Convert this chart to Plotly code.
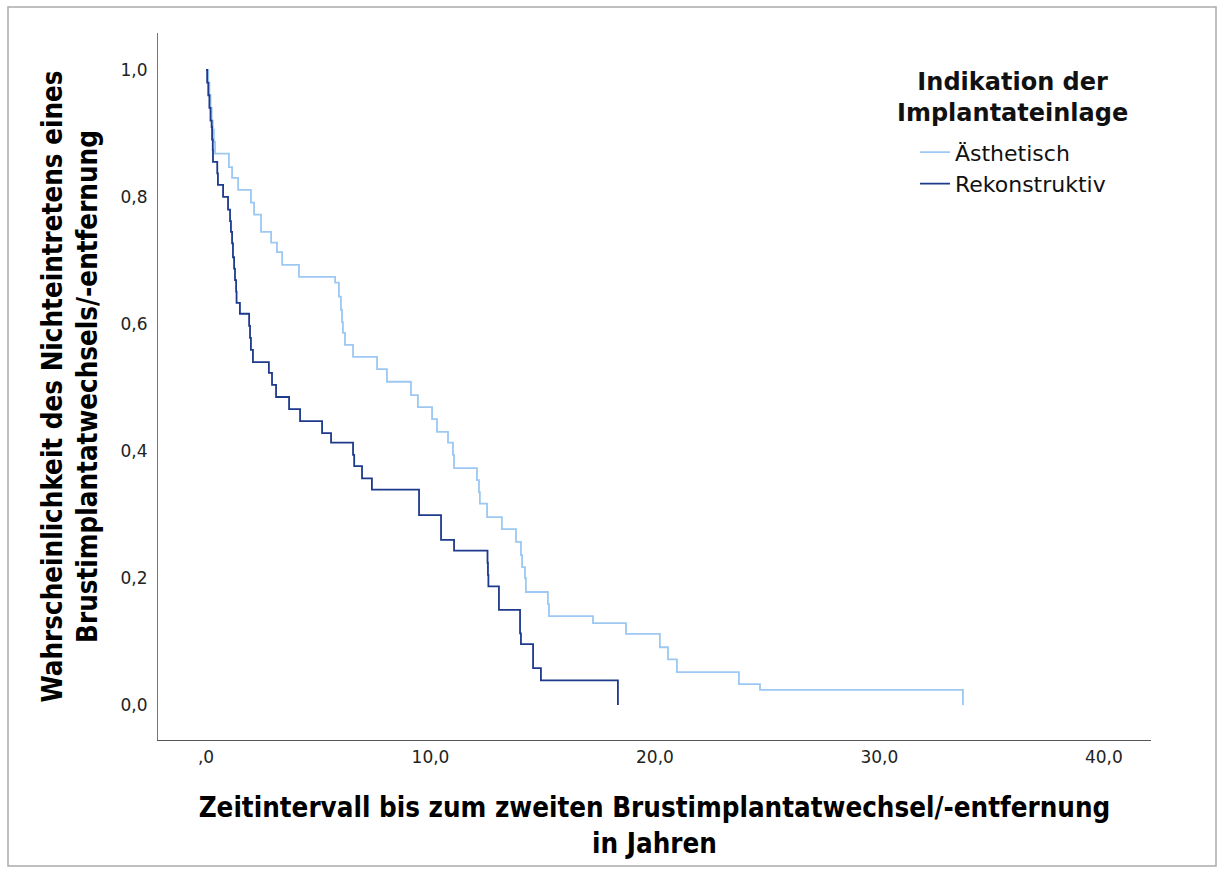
import plotly.graph_objects as go

# Kaplan-Meier step data (time in years, survival after step)
aest_t = [0, 0.10, 0.15, 0.20, 0.25, 0.30, 0.35, 0.40, 1.02, 1.16, 1.43, 2.00, 2.14, 2.45, 2.90,
          3.16, 3.39, 4.14, 5.75, 5.92, 6.01, 6.06, 6.10, 6.19, 6.55, 7.62, 8.06, 9.13, 9.44,
          10.07, 10.29, 10.78, 11.00, 11.05, 12.07, 12.16, 12.20, 12.52, 13.18, 13.81, 14.03,
          14.08, 14.21, 14.25, 15.23, 15.28, 17.24, 18.71, 20.22, 20.58, 20.98, 23.74, 24.68, 33.72]
aest_s = [1.0, 0.98, 0.96, 0.94, 0.92, 0.906, 0.887, 0.868, 0.847, 0.830, 0.811, 0.791, 0.772,
          0.745, 0.728, 0.713, 0.693, 0.674, 0.665, 0.643, 0.622, 0.603, 0.586, 0.567, 0.548,
          0.529, 0.509, 0.488, 0.469, 0.450, 0.430, 0.413, 0.394, 0.373, 0.354, 0.335, 0.317,
          0.296, 0.277, 0.257, 0.236, 0.217, 0.200, 0.178, 0.159, 0.140, 0.129, 0.112, 0.091,
          0.072, 0.052, 0.033, 0.024, 0.0]

rek_t = [0, 0.05, 0.10, 0.15, 0.20, 0.25, 0.27, 0.30, 0.31, 0.50, 0.53, 0.76, 0.98, 1.07, 1.11,
         1.16, 1.20, 1.25, 1.29, 1.34, 1.36, 1.51, 1.92, 1.96, 2.00, 2.09, 2.80, 2.94, 3.12,
         3.70, 4.19, 5.17, 5.57, 6.55, 6.60, 6.95, 7.39, 9.49, 10.47, 11.05, 12.54, 12.56,
         12.58, 13.05, 13.99, 14.03, 14.57, 14.92, 18.35]
rek_s = [1.0, 0.98, 0.96, 0.94, 0.92, 0.91, 0.89, 0.874, 0.855, 0.837, 0.819, 0.800, 0.780,
         0.762, 0.745, 0.727, 0.705, 0.687, 0.669, 0.651, 0.633, 0.616, 0.597, 0.578, 0.559,
         0.540, 0.523, 0.504, 0.485, 0.466, 0.447, 0.428, 0.413, 0.394, 0.376, 0.357, 0.339,
         0.299, 0.260, 0.243, 0.224, 0.205, 0.187, 0.150, 0.113, 0.096, 0.058, 0.039, 0.0]

x_ticks = [0, 10, 20, 30, 40]
x_labels = [",0", "10,0", "20,0", "30,0", "40,0"]
y_ticks = [0, 0.2, 0.4, 0.6, 0.8, 1.0]
y_labels = ["0,0", "0,2", "0,4", "0,6", "0,8", "1,0"]
legend_title = "Indikation der<br>Implantateinlage"

LIGHT = "#9cc8f2"
DARK = "#1d3a8c"
TITLE_FONT = "DejaVu Sans Condensed, Liberation Sans Narrow, DejaVu Sans, sans-serif"
TICK_FONT = "DejaVu Sans, Verdana, sans-serif"

fig = go.Figure()
fig.add_trace(go.Scatter(x=aest_t, y=aest_s, mode="lines", name="Ästhetisch",
                         line=dict(color=LIGHT, width=1.8, shape="hv")))
fig.add_trace(go.Scatter(x=rek_t, y=rek_s, mode="lines", name="Rekonstruktiv",
                         line=dict(color=DARK, width=1.8, shape="hv")))

fig.update_layout(
    width=1217, height=874,
    margin=dict(l=158, r=66, t=33, b=134),
    paper_bgcolor="white", plot_bgcolor="white",
    showlegend=True,
    legend=dict(
        x=0.7623, y=0.861, xanchor="left", yanchor="top",
        bgcolor="rgba(0,0,0,0)",
        font=dict(family=TICK_FONT, size=22, color="#111"),
        tracegroupgap=0,
    ),
    xaxis=dict(
        range=[-2.14, 42.1], tickvals=x_ticks, ticktext=x_labels,
        showgrid=False, zeroline=False, showline=True, linecolor="#555", linewidth=1,
        ticks="", ticklabelstandoff=2,
        tickfont=dict(family=TICK_FONT, size=17, color="#222"),
        title=dict(text="<b>Zeitintervall bis zum zweiten Brustimplantatwechsel/-entfernung<br>in Jahren</b>",
                   font=dict(family=TITLE_FONT, size=27.5, color="#000"), standoff=31),
    ),
    yaxis=dict(
        range=[-0.055, 1.058], tickvals=y_ticks, ticktext=y_labels,
        showgrid=False, zeroline=False, showline=True, linecolor="#777", linewidth=1,
        ticks="", ticklabelstandoff=6,
        tickfont=dict(family=TICK_FONT, size=17, color="#222"),
        title=dict(text="<b>Wahrscheinlichkeit des Nichteintretens eines<br>Brustimplantatwechsels/-entfernung</b>",
                   font=dict(family=TITLE_FONT, size=27.5, color="#000"), standoff=14),
    ),
)

# legend title (centred above the legend entries)
fig.add_annotation(text="<b>" + legend_title + "</b>", xref="paper", yref="paper",
                   x=(1012 - 158) / 993, y=1 - (66 - 33) / 707, xanchor="center", yanchor="top",
                   showarrow=False, align="center",
                   font=dict(family=TICK_FONT, size=24, color="#111"))

# outer frame of the chart
fig.add_shape(type="rect", xref="paper", yref="paper",
              x0=(8 - 158) / 993, x1=(1216 - 158) / 993,
              y0=-(866 - 740) / 707, y1=1 + (33 - 7) / 707,
              line=dict(color="#aaaaaa", width=1.5), fillcolor="rgba(0,0,0,0)", layer="below")

fig.write_html("out.html")
